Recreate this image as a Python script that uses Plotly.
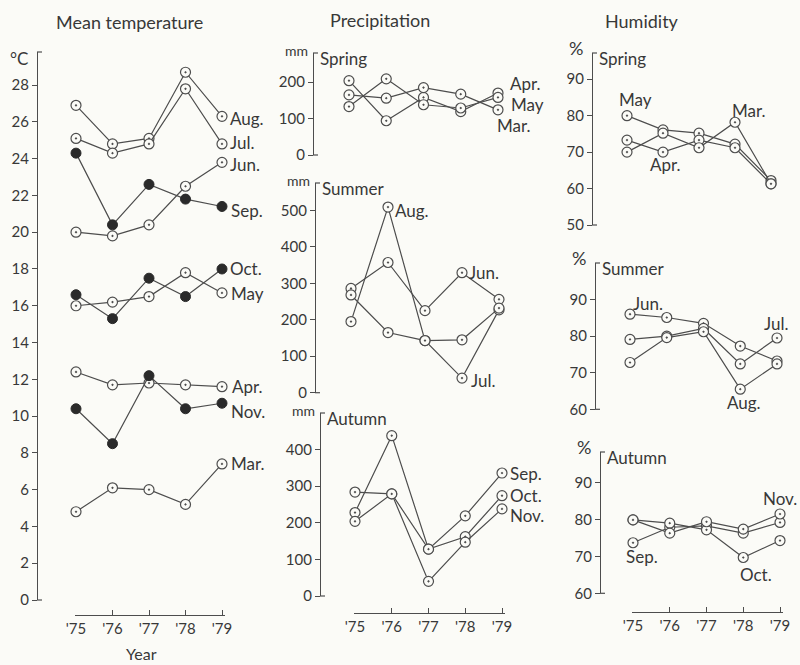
import plotly.graph_objects as go

W, H = 800, 665
BG = "#fbfbf7"
INK = "#4d4d4d"
TXT = "#383838"
FONT = "Lato, 'DejaVu Sans', sans-serif"

# ---------------- data ----------------
YEARS = [1975, 1976, 1977, 1978, 1979]
YEAR_LABELS = ["'75", "'76", "'77", "'78", "'79"]

# Mean temperature (deg C)
temp_aug = [26.9, 24.8, 25.1, 28.7, 26.3]
temp_jul = [25.1, 24.3, 24.8, 27.8, 24.8]
temp_jun = [20.0, 19.8, 20.4, 22.5, 23.8]
temp_sep = [24.3, 20.4, 22.6, 21.8, 21.4]
temp_oct = [16.6, 15.3, 17.5, 16.5, 18.0]
temp_may = [16.0, 16.2, 16.5, 17.8, 16.7]
temp_apr = [12.4, 11.7, 11.8, 11.7, 11.6]
temp_nov = [10.4, 8.5, 12.2, 10.4, 10.7]
temp_mar = [4.8, 6.1, 6.0, 5.2, 7.4]

# Precipitation (mm)
prec_spr_apr = [204, 94, 158, 119, 170]
prec_spr_may = [133, 209, 138, 129, 158]
prec_spr_mar = [165, 156, 185, 167, 124]
prec_sum_jun = [286, 357, 225, 329, 256]
prec_sum_jul = [268, 165, 143, 40, 227]
prec_sum_aug = [195, 509, 143, 145, 232]
prec_aut_sep = [228, 438, 128, 219, 336]
prec_aut_oct = [204, 279, 128, 162, 274]
prec_aut_nov = [284, 279, 40, 147, 238]

# Humidity (%)
hum_spr_may = [80.0, 76.1, 75.2, 72.2, 62.2]
hum_spr_apr = [73.3, 70.0, 73.3, 71.2, 61.3]
hum_spr_mar = [70.0, 75.2, 71.2, 78.2, 61.3]
hum_sum_jun = [86.0, 85.1, 83.5, 77.3, 73.2]
hum_sum_jul = [79.1, 80.0, 82.1, 72.4, 79.5]
hum_sum_aug = [72.8, 79.6, 81.2, 65.5, 72.4]
hum_aut_sep = [73.7, 77.9, 78.3, 76.3, 79.2]
hum_aut_oct = [79.9, 79.0, 77.2, 69.7, 74.3]
hum_aut_nov = [79.9, 76.3, 79.4, 77.4, 81.5]

TEMP_TICKS = list(range(0, 29, 2))
PREC_SPR_TICKS = [0, 100, 200]
PREC_SUM_TICKS = [0, 100, 200, 300, 400, 500]
PREC_AUT_TICKS = [0, 100, 200, 300, 400]
HUM_SPR_TICKS = [50, 60, 70, 80, 90]
HUM_TICKS = [60, 70, 80, 90]

# ---------------- layout config (pixels) ----------------
panels = [
    dict(n=1, x75=76, x79=222, yax=37, ylo=600, yhi=52, yrange=[0, 29.8], yticks=TEMP_TICKS, xline=615,
         unit="°C", title=None,
         series=[("Aug.", temp_aug, False, 4, 6, -2, "left"),
                 ("Jul.", temp_jul, False, 4, 6, 1, "left"),
                 ("Jun.", temp_jun, False, 4, 6, -2, "left"),
                 ("Sep.", temp_sep, True, 4, 7, -4, "left"),
                 ("Oct.", temp_oct, True, 4, 6, 0, "left"),
                 ("May", temp_may, False, 4, 7, -1, "left"),
                 ("Apr.", temp_apr, False, 4, 8, 0, "left"),
                 ("Nov.", temp_nov, True, 4, 7, -8, "left"),
                 ("Mar.", temp_mar, False, 4, 7, 0, "left")]),
    dict(n=2, x75=349, x79=498, yax=313, ylo=155, yhi=53, yrange=[0, 280], yticks=PREC_SPR_TICKS, xline=None,
         unit="mm", title="Spring",
         series=[("Apr.", prec_spr_apr, False, 4, 10, 10, "left"),
                 ("May", prec_spr_may, False, 4, 11, -7, "left"),
                 ("Mar.", prec_spr_mar, False, 4, -3, -16, "left")]),
    dict(n=3, x75=351, x79=499, yax=315, ylo=392.7, yhi=183, yrange=[0, 575], yticks=PREC_SUM_TICKS, xline=None,
         unit="mm", title="Summer",
         series=[("Jun.", prec_sum_jun, False, 3, 5, 0, "left"),
                 ("Jul.", prec_sum_jul, False, 3, 7, -2, "left"),
                 ("Aug.", prec_sum_aug, False, 1, 5, -3, "left")]),
    dict(n=4, x75=355, x79=502, yax=320, ylo=596, yhi=413, yrange=[0, 500], yticks=PREC_AUT_TICKS, xline=613,
         unit="mm", title="Autumn",
         series=[("Sep.", prec_aut_sep, False, 4, 6, 0, "left"),
                 ("Oct.", prec_aut_oct, False, 4, 6, 0, "left"),
                 ("Nov.", prec_aut_nov, False, 4, 6, -7, "left")]),
    dict(n=5, x75=627, x79=771, yax=592, ylo=225, yhi=53, yrange=[50, 97.2], yticks=HUM_SPR_TICKS, xline=None,
         unit="%", title="Spring",
         series=[("May", hum_spr_may, False, 0, 8, 16, "center"),
                 ("Apr.", hum_spr_apr, False, 1, 2, -12, "center"),
                 ("Mar.", hum_spr_mar, False, 3, 14, 12, "center")]),
    dict(n=6, x75=630, x79=777, yax=595, ylo=409.3, yhi=263, yrange=[60, 100], yticks=HUM_TICKS, xline=None,
         unit="%", title="Summer",
         series=[("Jun.", hum_sum_jun, False, 0, 18, 11, "center"),
                 ("Jul.", hum_sum_jul, False, 4, -1, 14, "center"),
                 ("Aug.", hum_sum_aug, False, 3, 4, -13, "center")]),
    dict(n=7, x75=633, x79=780, yax=600, ylo=593.3, yhi=452, yrange=[60, 98.3], yticks=HUM_TICKS, xline=612,
         unit="%", title="Autumn",
         series=[("Sep.", hum_aut_sep, False, 0, 9, -14, "center"),
                 ("Oct.", hum_aut_oct, False, 3, 13, -17, "center"),
                 ("Nov.", hum_aut_nov, False, 4, 0, 15, "center")]),
]

XPAD_L, XPAD_R = 0.02, 0.08


def pxx(x):
    return x / W


def pxy(y):
    return 1 - y / H


fig = go.Figure()
layout = dict(
    width=W, height=H, autosize=False,
    margin=dict(l=0, r=0, t=0, b=0, pad=0, autoexpand=False),
    paper_bgcolor=BG, plot_bgcolor="rgba(0,0,0,0)",
    showlegend=False,
    font=dict(family=FONT, color=TXT, size=15),
)
annotations = []
shapes = []

for p in panels:
    n = p["n"]
    xs = "" if n == 1 else str(n)
    ppy = (p["x79"] - p["x75"]) / 4.0
    xdom = [pxx(p["x75"] - XPAD_L * ppy), pxx(p["x79"] + XPAD_R * ppy)]
    ydom = [pxy(p["ylo"]), pxy(p["yhi"])]
    has_x = p["xline"] is not None
    xa = dict(
        domain=xdom, range=[1975 - XPAD_L, 1979 + XPAD_R], anchor="free",
        position=pxy(p["xline"]) if has_x else 0,
        showgrid=False, zeroline=False, fixedrange=True, automargin=False,
        visible=has_x,
    )
    if has_x:
        xa.update(showline=True, linecolor=INK, linewidth=1.2, ticks="inside", ticklen=5,
                  tickwidth=1.2, tickcolor=INK, tickvals=YEARS, ticktext=YEAR_LABELS,
                  tickfont=dict(size=15, color=TXT))
    ya = dict(
        domain=ydom, range=p["yrange"], anchor="free", position=pxx(p["yax"]),
        showgrid=False, zeroline=False, fixedrange=True, automargin=False,
        showline=True, linecolor=INK, linewidth=1.2, ticks="outside", ticklen=5,
        tickwidth=1.2, tickcolor=INK, tickvals=p["yticks"],
        tickfont=dict(size=15, color=TXT),
    )
    layout["xaxis" + xs] = xa
    layout["yaxis" + xs] = ya

    # bracket serifs at the ends of the y axis
    for yy in (p["yhi"], p["ylo"]):
        shapes.append(dict(type="line", xref="paper", yref="paper",
                           x0=pxx(p["yax"]), x1=pxx(p["yax"] + 5), y0=pxy(yy), y1=pxy(yy),
                           line=dict(color=INK, width=1.2)))

    # unit label
    if p["unit"] == "°C":
        annotations.append(dict(text="°C", xref="paper", yref="paper", x=pxx(p["yax"] - 7),
                                y=pxy(p["yhi"] + 6), xanchor="right", yanchor="middle",
                                showarrow=False, font=dict(size=17, color=TXT)))
    elif p["unit"] == "mm":
        annotations.append(dict(text="mm", xref="paper", yref="paper", x=pxx(p["yax"] - 3),
                                y=pxy(p["yhi"] - 2), xanchor="right", yanchor="middle",
                                showarrow=False, font=dict(size=14, color=TXT)))
    else:
        annotations.append(dict(text="%", xref="paper", yref="paper", x=pxx(p["yax"] - 7),
                                y=pxy(p["yhi"] - 5), xanchor="right", yanchor="middle",
                                showarrow=False, font=dict(size=18, color=TXT)))
    if p["title"]:
        annotations.append(dict(text=p["title"], xref="paper", yref="paper", x=pxx(p["yax"] + 5),
                                y=pxy(p["yhi"] + 5), xanchor="left", yanchor="middle",
                                showarrow=False, font=dict(size=17, color=TXT)))

    for (name, vals, filled, li, dx, dy, xanc) in p["series"]:
        if filled:
            marker = dict(symbol="circle", size=10, color="#2a2a2a", line=dict(color="#2a2a2a", width=1))
        else:
            marker = dict(symbol="circle-dot", size=10, color=BG, line=dict(color=INK, width=1.2))
        fig.add_trace(go.Scatter(
            x=YEARS, y=vals, mode="lines+markers", name=name,
            xaxis="x" + xs, yaxis="y" + xs, cliponaxis=False,
            line=dict(color=INK, width=1.2), marker=marker, hoverinfo="skip",
        ))
        annotations.append(dict(text=name, xref="x" + xs, yref="y" + xs, x=YEARS[li], y=vals[li],
                                xshift=dx, yshift=dy, xanchor=xanc, yanchor="middle",
                                showarrow=False, font=dict(size=17, color=TXT)))

# column titles and x-axis title
for txt, cx, cy in [("Mean temperature", 129, 22), ("Precipitation", 380, 20), ("Humidity", 642, 21)]:
    annotations.append(dict(text=txt, xref="paper", yref="paper", x=pxx(cx), y=pxy(cy),
                            xanchor="center", yanchor="middle", showarrow=False,
                            font=dict(size=18, color=TXT)))
annotations.append(dict(text="Year", xref="paper", yref="paper", x=pxx(141), y=pxy(653),
                        xanchor="center", yanchor="middle", showarrow=False,
                        font=dict(size=16, color=TXT)))

layout["annotations"] = annotations
layout["shapes"] = shapes
fig.update_layout(**layout)
fig.write_html("out.html")
